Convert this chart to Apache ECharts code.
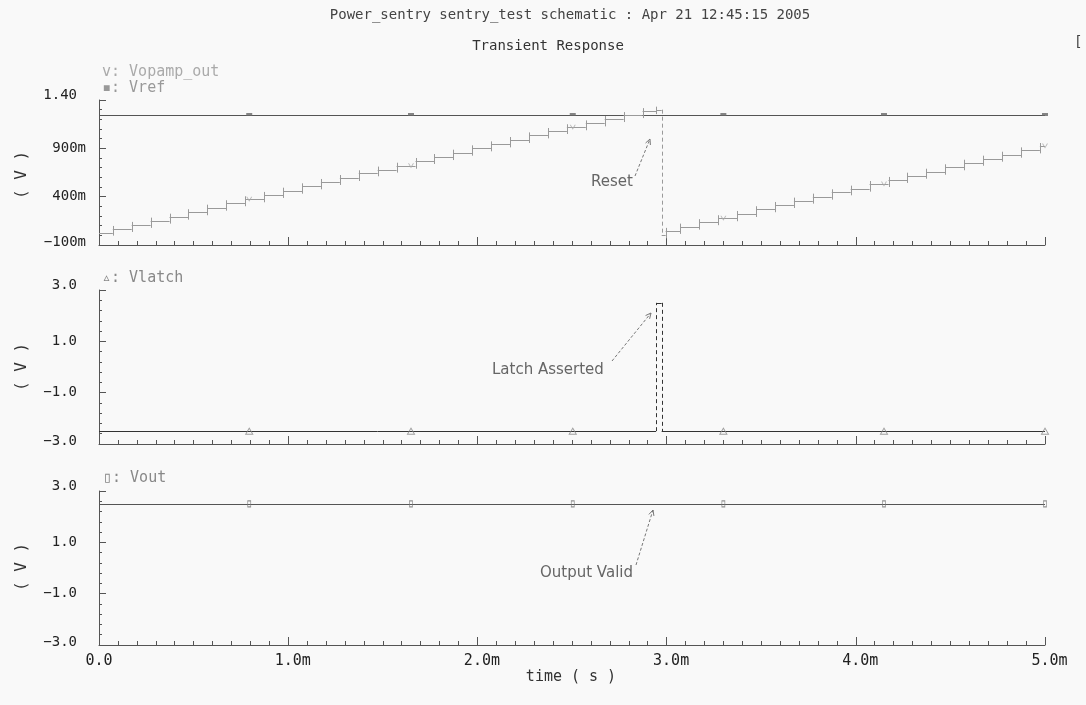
<!DOCTYPE html>
<html>
<head>
<meta charset="utf-8">
<title>Transient Response</title>
<script src="https://cdn.jsdelivr.net/npm/echarts@6/dist/echarts.min.js"></script>
<style>
  html, body { margin: 0; padding: 0; background: #f9f9f9; }
  #chart { width: 1086px; height: 705px; }
</style>
</head>
<body>
<div id="chart"></div>
<script>
// ---- time axis (ms) ----
const xTickValues = [0, 1, 2, 3, 4, 5];
const xTickLabels = ['0.0', '1.0m', '2.0m', '3.0m', '4.0m', '5.0m'];

// ---- voltage axes ----
const topTickValues = [-0.1, 0.4, 0.9, 1.4];
const topTickLabels = ['\u2212100m', '400m', '900m', '1.40'];
const lowTickValues = [-3, -1, 1, 3];
const lowTickLabels = ['\u22123.0', '\u22121.0', '1.0', '3.0'];

// ---- Vopamp_out: staircase, step start times (ms) and held levels (V) ----
const opampStepTime = [
  0.000, 0.073, 0.173, 0.273, 0.373, 0.473, 0.573, 0.673, 0.773, 0.873,
  0.973, 1.073, 1.173, 1.273, 1.373, 1.473, 1.573, 1.673, 1.773, 1.873,
  1.973, 2.073, 2.173, 2.273, 2.373, 2.473, 2.573, 2.673, 2.773, 2.873,
  2.944, 2.974, 2.995, 3.073, 3.173, 3.273, 3.373, 3.473, 3.573, 3.673,
  3.773, 3.873, 3.973, 4.073, 4.173, 4.273, 4.373, 4.473, 4.573, 4.673,
  4.773, 4.873, 4.973
];
const opampStepLevel = [
  0.028, 0.066, 0.108, 0.152, 0.193, 0.239, 0.286, 0.332, 0.373, 0.418,
  0.462, 0.507, 0.552, 0.593, 0.642, 0.680, 0.720, 0.769, 0.810, 0.855,
  0.900, 0.941, 0.986, 1.034, 1.079, 1.118, 1.158, 1.203, 1.244, 1.285,
  1.300, 0.000, 0.046, 0.090, 0.136, 0.177, 0.221, 0.270, 0.314, 0.359,
  0.400, 0.445, 0.483, 0.531, 0.573, 0.617, 0.658, 0.704, 0.751, 0.793,
  0.834, 0.879, 0.924
];

// ---- Vref ----
const vrefStepTime = [0];
const vrefStepLevel = [1.25];

// ---- Vlatch ----
const vlatchStepTime = [0, 2.944, 2.974];
const vlatchStepLevel = [-2.5, 2.5, -2.5];

// ---- Vout ----
const voutStepTime = [0];
const voutStepLevel = [2.5];

// ---- trace marker times (ms) ----
const markerTimes = [0.794, 1.649, 2.504, 3.300, 4.149, 5.000];

const T_END = 5;
const MONO = '"DejaVu Sans Mono", "Liberation Mono", monospace';
const SANS = '"DejaVu Sans", "Liberation Sans", sans-serif';
const AXIS_COLOR = '#555';

function levelAt(times, levels, t) {
  let v = levels[0];
  for (let i = 0; i < times.length; i++) if (times[i] <= t) v = levels[i];
  return v;
}

function tickRange(min, max, step) {
  const out = [];
  const n = Math.round((max - min) / step);
  for (let i = 0; i <= n; i++) out.push(+(min + i * step).toFixed(6));
  return out;
}

// Stepped waveform: each hold is a horizontal stroke, each change a vertical
// stroke. Short edges overshoot both levels a little; long edges are dashed.
function waveSeries(times, levels, xi, yi, color, overshoot) {
  const segs = [];
  for (let i = 0; i < times.length; i++) {
    if (i > 0) segs.push([times[i], levels[i - 1], times[i], levels[i]]);
    const tEnd = i + 1 < times.length ? times[i + 1] : T_END;
    segs.push([times[i], levels[i], tEnd, levels[i]]);
  }
  return {
    type: 'custom',
    xAxisIndex: xi,
    yAxisIndex: yi,
    silent: true,
    encode: { x: [0, 2], y: [1, 3] },
    data: segs,
    renderItem: function (params, api) {
      const p0 = api.coord([api.value(0), api.value(1)]);
      const p1 = api.coord([api.value(2), api.value(3)]);
      const crisp = (v) => Math.round(v) + 0.5;
      if (Math.abs(p0[0] - p1[0]) > 0.01) {
        const y = crisp(p0[1]);
        return { type: 'line', shape: { x1: p0[0], y1: y, x2: p1[0], y2: y },
                 style: { stroke: color, lineWidth: 1 } };
      }
      let y1 = p0[1], y2 = p1[1];
      const tall = Math.abs(y2 - y1) > 20;
      if (!tall && overshoot) {
        const dir = Math.sign(y2 - y1) || 1;
        y1 -= dir * overshoot;
        y2 += dir * overshoot;
      }
      const x = crisp(p0[0]);
      return { type: 'line', shape: { x1: x, y1: y1, x2: x, y2: y2 },
               style: { stroke: color, lineWidth: 1, lineDash: tall ? [4, 3] : null } };
    }
  };
}

function markerSeries(times, levels, xi, yi, symbol, size, style) {
  return {
    type: 'scatter',
    xAxisIndex: xi,
    yAxisIndex: yi,
    silent: true,
    symbol: symbol,
    symbolSize: size,
    itemStyle: style,
    data: markerTimes.map(t => [t, levelAt(times, levels, t)]),
    z: 5
  };
}

const grids = [
  { left: 99, top: 100, width: 946, height: 145 },
  { left: 99, top: 290, width: 946, height: 154 },
  { left: 99, top: 491, width: 946, height: 154 }
];

function xAxisFor(i) {
  return {
    type: 'value', gridIndex: i, min: 0, max: T_END, interval: 1,
    axisLine: { onZero: false, lineStyle: { color: AXIS_COLOR, width: 1 } },
    axisTick: { inside: true, length: 8, lineStyle: { color: AXIS_COLOR } },
    minorTick: { show: true, splitNumber: 10, length: 4, lineStyle: { color: AXIS_COLOR } },
    splitLine: { show: false },
    axisLabel: {
      show: i === 2,
      margin: 9,
      color: '#222',
      fontFamily: MONO,
      fontSize: 15,
      formatter: function (v) {
        const k = xTickValues.findIndex(x => Math.abs(x - v) < 1e-9);
        if (k < 0) return '';
        const s = xTickLabels[k];
        return /m$/.test(s) ? ' ' + s : s;
      }
    }
  };
}

// Two overlapping left axes per panel: fine ticks with the axis line,
// and the labelled major ticks.
function yAxesFor(i, min, max, step, majors, labels) {
  const rich = {};
  ['hi', 'lo', 'md'].forEach(function (pos) {
    ['m', 'n'].forEach(function (suf) {
      const up = pos === 'hi' ? 10 : pos === 'lo' ? 6 : 0;
      rich[pos + suf] = {
        fontFamily: MONO, fontSize: 14, color: '#222',
        padding: [0, suf === 'n' ? 9 : 0, up, 0]
      };
    });
  });
  return [
    {
      type: 'value', gridIndex: i, min: min, max: max, position: 'left',
      axisLine: { show: true, onZero: false, lineStyle: { color: AXIS_COLOR, width: 1 } },
      axisTick: { show: true, inside: true, length: 3, customValues: tickRange(min, max, step),
                  lineStyle: { color: AXIS_COLOR } },
      axisLabel: { show: false },
      splitLine: { show: false }
    },
    {
      type: 'value', gridIndex: i, min: min, max: max, position: 'left',
      axisLine: { show: false, onZero: false },
      axisTick: { show: true, inside: true, length: 7, customValues: majors,
                  lineStyle: { color: AXIS_COLOR } },
      axisLabel: {
        show: true, margin: 13, customValues: majors,
        fontFamily: MONO, fontSize: 14, color: '#222',
        formatter: function (v) {
          const k = majors.findIndex(x => Math.abs(x - v) < 1e-9);
          if (k < 0) return '';
          const s = labels[k];
          const pos = k === majors.length - 1 ? 'hi' : k === 0 ? 'lo' : 'md';
          return '{' + pos + (/m$/.test(s) ? 'm' : 'n') + '|' + s + '}';
        },
        rich: rich
      },
      splitLine: { show: false }
    }
  ];
}

function arrow(x1, y1, x2, y2) {
  const ang = Math.atan2(y2 - y1, x2 - x1);
  const h = 6, spread = 0.45;
  return {
    type: 'group',
    silent: true,
    children: [
      { type: 'line', shape: { x1: x1, y1: y1, x2: x2, y2: y2 },
        style: { stroke: '#777', lineWidth: 1, lineDash: [3, 2] } },
      { type: 'line', shape: { x1: x2, y1: y2,
          x2: x2 - h * Math.cos(ang - spread), y2: y2 - h * Math.sin(ang - spread) },
        style: { stroke: '#777', lineWidth: 1 } },
      { type: 'line', shape: { x1: x2, y1: y2,
          x2: x2 - h * Math.cos(ang + spread), y2: y2 - h * Math.sin(ang + spread) },
        style: { stroke: '#777', lineWidth: 1 } }
    ]
  };
}

function text(str, x, y, size, family, color, align, rotation) {
  return {
    type: 'text', x: x, y: y, silent: true,
    rotation: rotation || 0,
    style: {
      text: str, fill: color, fontSize: size, fontFamily: family,
      align: align || 'left', verticalAlign: 'middle'
    }
  };
}

const chart = echarts.init(document.getElementById('chart'), null, { renderer: 'canvas' });

const yTop = yAxesFor(0, -0.1, 1.4, 0.1, topTickValues, topTickLabels);
const yMid = yAxesFor(1, -3, 3, 0.4, lowTickValues, lowTickLabels);
const yBot = yAxesFor(2, -3, 3, 0.4, lowTickValues, lowTickLabels);

const vSymbol = 'path://M0,0L4,7L8,0L6.6,0L4,4.6L1.4,0Z';
const UP = Math.PI / 2;

chart.setOption({
  backgroundColor: '#f9f9f9',
  animation: false,
  grid: grids,
  xAxis: [xAxisFor(0), xAxisFor(1), xAxisFor(2)],
  yAxis: yTop.concat(yMid, yBot),
  series: [
    waveSeries(vrefStepTime, vrefStepLevel, 0, 1, '#555', 0),
    waveSeries(opampStepTime, opampStepLevel, 0, 1, '#9a9a9a', 3),
    markerSeries(vrefStepTime, vrefStepLevel, 0, 1, 'rect', [6, 3], { color: '#666' }),
    markerSeries(opampStepTime, opampStepLevel, 0, 1, vSymbol, [6, 5], { color: '#aaa' }),

    waveSeries(vlatchStepTime, vlatchStepLevel, 1, 3, '#333', 0),
    markerSeries(vlatchStepTime, vlatchStepLevel, 1, 3, 'triangle', [7, 6],
      { color: 'none', borderColor: '#888', borderWidth: 1 }),

    waveSeries(voutStepTime, voutStepLevel, 2, 5, '#555', 0),
    markerSeries(voutStepTime, voutStepLevel, 2, 5, 'rect', [3, 6],
      { color: 'none', borderColor: '#777', borderWidth: 1 })
  ],
  graphic: [
    text('Power_sentry sentry_test schematic : Apr 21 12:45:15 2005', 570, 15, 14, MONO, '#444', 'center'),
    text('Transient Response', 548, 46, 14, MONO, '#333', 'center'),
    text('[', 1074, 42, 14, MONO, '#444'),

    text('v: Vopamp_out', 102, 72, 15, MONO, '#aaa'),
    text('\u25aa: Vref', 102, 88, 15, MONO, '#999'),
    text('\u25b5: Vlatch', 102, 278, 15, MONO, '#888'),
    text('\u25af: Vout', 103, 478, 15, MONO, '#888'),

    text('( V )', 22, 175, 16, MONO, '#333', 'center', UP),
    text('( V )', 22, 367, 16, MONO, '#333', 'center', UP),
    text('( V )', 22, 567, 16, MONO, '#333', 'center', UP),
    text('time ( s )', 571, 677, 15, MONO, '#333', 'center'),

    text('Reset', 591, 182, 15, SANS, '#666'),
    arrow(635, 176, 650, 139),
    text('Latch Asserted', 492, 370, 15, SANS, '#666'),
    arrow(612, 361, 651, 313),
    text('Output Valid', 540, 573, 15, SANS, '#666'),
    arrow(636, 565, 653, 510)
  ]
});
</script>
</body>
</html>
